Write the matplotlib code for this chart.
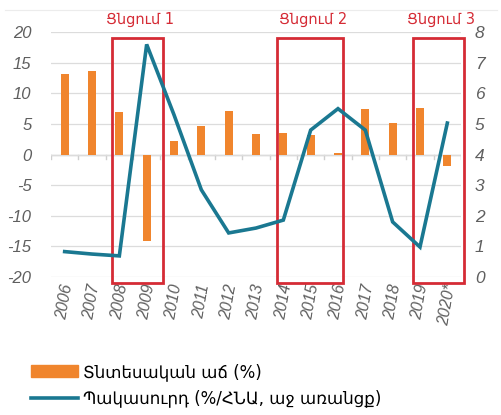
import numpy as np
import matplotlib
matplotlib.use('Agg')
import matplotlib.pyplot as plt
from matplotlib.patches import Rectangle
from matplotlib.lines import Line2D

plt.rcParams['axes.unicode_minus'] = False

years = ['2006', '2007', '2008', '2009', '2010', '2011', '2012', '2013',
         '2014', '2015', '2016', '2017', '2018', '2019', '2020*']
growth = [13.2, 13.7, 6.9, -14.1, 2.2, 4.7, 7.1, 3.3,
          3.6, 3.2, 0.2, 7.5, 5.2, 7.6, -1.8]
deficit = [0.83, 0.75, 0.69, 7.6, 5.3, 2.85, 1.44, 1.6,
           1.86, 4.8, 5.5, 4.8, 1.8, 0.98, 5.03]
shock_labels = ['Ցնցում 1', 'Ցնցում 2', 'Ցնցում 3']
shock_spans = [(1.72, 3.6), (7.77, 10.2), (12.75, 14.6)]

orange = '#f0852d'
teal = '#1a7891'
red = '#d52b35'
gray = '#5f5f5f'
tick_font = 'Liberation Sans'

fig = plt.figure(figsize=(5.02, 4.15), dpi=100)
ax = fig.add_axes([0.1016, 0.3325, 0.8167, 0.590])
ax2 = ax.twinx()

x = np.arange(len(years))
ax.bar(x, growth, width=0.3, color=orange, zorder=2)
ax.set_xlim(-0.5, len(years) - 0.5)
ax.set_ylim(-20, 20)
ax.set_yticks(range(-20, 21, 5))
ax.grid(axis='y', color='#dcdcdc', lw=0.9, zorder=0)
ax.axhline(0, color='#cfcfcf', lw=1.0, zorder=1)
# small ticks on the zero line between categories
for b in np.arange(-0.5, len(years), 1.0):
    ax.plot([b, b], [0, -0.8], color='#cfcfcf', lw=1.0, zorder=1)

ax.set_xticks(x)
ax.set_xticklabels(years, rotation=80, fontsize=11.5, style='italic',
                   color=gray, family=tick_font)
ax.tick_params(axis='x', length=0, pad=4)
ax.tick_params(axis='y', length=0, labelsize=12, labelcolor=gray, pad=14)
for lbl in ax.get_yticklabels():
    lbl.set_fontstyle('italic')
    lbl.set_family(tick_font)

ax2.plot(x, deficit, color=teal, lw=2.6, zorder=3, solid_joinstyle='miter')
ax2.set_ylim(0, 8)
ax2.set_yticks(range(0, 9))
ax2.tick_params(axis='y', length=0, labelsize=12.5, labelcolor=gray, pad=10)
for lbl in ax2.get_yticklabels():
    lbl.set_fontstyle('italic')
    lbl.set_family(tick_font)

for a in (ax, ax2):
    for s in a.spines.values():
        s.set_visible(False)

for (x0, x1), lab in zip(shock_spans, shock_labels):
    ax.add_patch(Rectangle((x0, -20.9), x1 - x0, 19.0 + 20.9, fill=False,
                           edgecolor=red, lw=2.0, clip_on=False, zorder=4))
    ax.text((x0 + x1) / 2 + 0.1, 20.9, lab, color=red, fontsize=10.5,
            ha='center', va='bottom', clip_on=False)

fig.add_artist(Line2D([0.01, 0.99], [0.976, 0.976], color='#ececec', lw=0.8))

handles = [Rectangle((0, 0), 1, 1, color=orange),
           Line2D([0], [0], color=teal, lw=2.6)]
fig.legend(handles, ['Տնտեսական աճ (%)', 'Պակասուրդ (%/ՀՆԱ, աջ առանցք)'],
           loc='upper left', bbox_to_anchor=(0.045, 0.145), frameon=False,
           fontsize=12, handlelength=2.8, handletextpad=0.3, labelspacing=0.5,
           borderpad=0)

fig.savefig('out.png', dpi=100)
